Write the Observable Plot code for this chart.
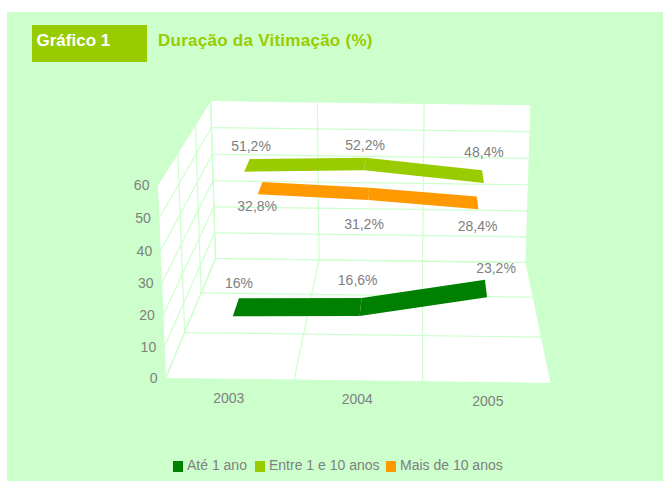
<!DOCTYPE html>
<html lang="pt">
<head>
<meta charset="utf-8">
<script src="https://cdn.jsdelivr.net/npm/d3@7"></script>
<script src="https://cdn.jsdelivr.net/npm/@observablehq/plot@0.6"></script>
<style>
  html, body { margin: 0; padding: 0; background: #fff; }
  #panel { position: absolute; left: 7px; top: 12px; width: 656px; height: 469px; background: #ccffcc;
           font-family: "Liberation Sans", Arial, sans-serif; overflow: hidden; }
  #header { height: 68px; position: relative; }
  #badge { position: absolute; left: 25px; top: 13px; width: 115px; height: 37px; box-sizing: border-box;
           background: #99cc00; color: #fff; font-weight: bold; font-size: 17px; padding: 6px 0 0 4.5px; }
  #title { position: absolute; left: 151px; top: 19px; color: #99cc00; font-weight: bold; font-size: 17px; letter-spacing: 0.26px; }
  #chart { height: 345px; }
  #chart svg { display: block; }
  #legend { position: relative; height: 56px; color: #808080; font-size: 14px; }
  .key { position: absolute; top: 32px; display: flex; align-items: center; white-space: nowrap; line-height: 16px; }
  .key i { display: inline-block; width: 10px; height: 11px; margin-right: 4px; margin-top: 2px; }
</style>
</head>
<body>
<div id="panel">
  <div id="header"><div id="badge">Gráfico 1</div><div id="title">Duração da Vitimação (%)</div></div>
  <div id="chart"></div>
  <div id="legend"></div>
</div>
<script>
// ---- Data ----
const years = [2003, 2004, 2005];
const seriesNames = ["Até 1 ano", "Entre 1 e 10 anos", "Mais de 10 anos"];
const seriesColors = ["#008000", "#99cc00", "#ff9900"];
const ate1Ano = [16, 16.6, 23.2];
const entre1e10 = [51.2, 52.2, 48.4];
const maisDe10 = [32.8, 31.2, 28.4];
const valueTicks = [0, 10, 20, 30, 40, 50, 60];

const seriesValues = [ate1Ano, entre1e10, maisDe10];
const valueMax = 60;
const ribbonDepth = 0.42; // in category-depth units

// ---- Camera: perspective map of (category position, value, depth) ----
// s: 0..1 along categories, u: 0..1 up the value axis, t: 0..1 front to back
function project(s, u, t) {
  const w = 1 - 0.000267 * s + 0.2419 * t - 0.0379 * u;
  return {
    px: (385.5 * s + 102 * t - 14 * u + 165) / w,
    py: (4.9 * s - 57.59 * t - 200 * u + 378) / w
  };
}
const S = (i) => (i + 0.5) / years.length;            // category centre
const U = (v) => v / valueMax;                        // value
const T = (k) => (k + 0.5) / seriesNames.length;      // series lane
const halfLane = ribbonDepth / 2 / seriesNames.length;

// ---- Panels and grid, derived from the axes ----
const quad = (id, corners) => corners.map(([s, u, t]) => ({ id, ...project(s, u, t) }));
const panels = [
  ...quad("back", [[0,0,1],[1,0,1],[1,1,1],[0,1,1]]),
  ...quad("left", [[0,0,0],[0,0,1],[0,1,1],[0,1,0]]),
  ...quad("floor", [[0,0,0],[1,0,0],[1,0,1],[0,0,1]])
];
const grid = [];
const seg = (id, a, b) => grid.push({ id, ...project(...a) }, { id, ...project(...b) });
valueTicks.forEach((v) => {
  seg("bh" + v, [0, U(v), 1], [1, U(v), 1]);
  seg("lh" + v, [0, U(v), 0], [0, U(v), 1]);
});
for (let i = 0; i <= years.length; i++) {
  const s = i / years.length;
  seg("bv" + i, [s, 0, 1], [s, 1, 1]);
  seg("fd" + i, [s, 0, 0], [s, 0, 1]);
}
for (let k = 0; k <= seriesNames.length; k++) {
  const t = k / seriesNames.length;
  seg("lv" + k, [0, 0, t], [0, 1, t]);
  seg("fw" + k, [0, 0, t], [1, 0, t]);
}

// ---- Ribbons, one flat quad per segment, back lanes first ----
const ribbons = [];
[2, 1, 0].forEach((k) => {
  const vals = seriesValues[k];
  for (let i = 0; i < vals.length - 1; i++) {
    const id = k + "-" + i, series = seriesNames[k];
    [[i, -1], [i + 1, -1], [i + 1, 1], [i, 1]].forEach(([j, side]) => {
      ribbons.push({ id, series, ...project(S(j), U(vals[j]), T(k) + side * halfLane) });
    });
  }
});

// ---- Labels ----
const fmt = (v) => String(v).replace(".", ",") + "%";
// label offsets from the ribbon centre, per series and year
const labelDx = [[3, -3, 10], [4, 0, 1], [-3, -5, 0]];
const labelDy = [[-24, -26, -20], [-19, -18, -24], [18, 31, 24]];
const valueLabels = seriesValues.flatMap((vals, k) => vals.map((v, i) => {
  const p = project(S(i), U(v), T(k));
  return { px: p.px + labelDx[k][i], py: p.py + labelDy[k][i], label: fmt(v) };
}));
const tickRows = valueTicks.map((v) => ({ ...project(0, U(v), 0), label: String(v) }));
const yearDx = [-1, -1, 1];
const yearRows = years.map((y, i) => {
  const p = project(S(i), 0, 0);
  return { px: p.px + yearDx[i], py: p.py, label: String(y) };
});

const gray = "#808080";
const chart = Plot.plot({
  width: 656, height: 345,
  marginTop: 0, marginRight: 0, marginBottom: 0, marginLeft: 0,
  x: { domain: [7, 663], range: [0, 656], axis: null },
  y: { domain: [80, 425], range: [0, 345], axis: null },
  color: { domain: seriesNames, range: seriesColors },
  style: { background: "transparent", fontFamily: "'Liberation Sans', Arial, sans-serif" },
  marks: [
    Plot.line(panels, { x: "px", y: "py", z: "id", fill: "#ffffff", stroke: "none", curve: "linear-closed" }),
    Plot.line(grid, { x: "px", y: "py", z: "id", stroke: "#ccffcc", strokeWidth: 1.2 }),
    Plot.line(ribbons, { x: "px", y: "py", z: "id", fill: "series", stroke: "none", curve: "linear-closed" }),
    Plot.text(valueLabels, { x: "px", y: "py", text: "label", fill: gray, fontSize: 14 }),
    Plot.text(tickRows, { x: "px", y: "py", text: "label", fill: gray, fontSize: 14, textAnchor: "end", dx: -8 }),
    Plot.text(yearRows, { x: "px", y: "py", text: "label", fill: gray, fontSize: 14, dy: 19 })
  ]
});
document.getElementById("chart").append(chart);

// ---- Legend ----
const legend = document.getElementById("legend");
const keyLeft = [166, 248, 379];
seriesNames.forEach((name, i) => {
  const key = document.createElement("div");
  key.className = "key";
  key.style.left = keyLeft[i] + "px";
  const sw = document.createElement("i");
  sw.style.background = seriesColors[i];
  key.append(sw, name);
  legend.append(key);
});
</script>
</body>
</html>
